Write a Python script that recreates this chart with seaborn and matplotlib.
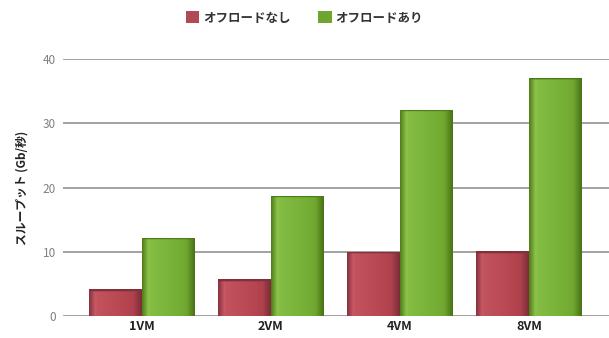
import numpy as np
import pandas as pd
import matplotlib
matplotlib.use("Agg")
import matplotlib.pyplot as plt
from matplotlib.colors import LinearSegmentedColormap
import seaborn as sns

categories = ["1VM", "2VM", "4VM", "8VM"]
series_names = ["オフロードなし", "オフロードあり"]
no_offload = [4.2, 5.7, 10.0, 10.1]
with_offload = [12.2, 18.7, 32.1, 37.1]
y_ticks = [0, 10, 20, 30, 40]
y_label = "スループット (Gb/秒)"

colors = {"オフロードなし": "#b04a55", "オフロードあり": "#6fa52e"}
# horizontal shading per series: dark edge -> light centre -> dark edge
shades = {
    "オフロードなし": ["#8a3342", "#c85a62", "#b5444f", "#7d2e3a"],
    "オフロードあり": ["#557f1c", "#8cc54a", "#74ad34", "#4a7415"],
}

df = pd.DataFrame({
    "category": categories * 2,
    "series": [series_names[0]] * 4 + [series_names[1]] * 4,
    "value": no_offload + with_offload,
})

sns.set_theme(style="white")
plt.rcParams["font.family"] = ["Noto Sans CJK JP", "DejaVu Sans"]

fig = plt.figure(figsize=(6.09, 3.38), dpi=100)
ax = fig.add_axes([0.1034, 0.065, 0.8966, 0.7604])

sns.barplot(data=df, x="category", y="value", hue="series", order=categories,
            hue_order=series_names, palette=colors, width=0.82, gap=0,
            saturation=1, linewidth=0, ax=ax, zorder=3)

ax.set_ylim(0, 40)
ax.set_xlim(-0.61, 3.62)
ax.set_yticks(y_ticks)
ax.grid(axis="y", color="#9a9a9a", linewidth=1.3, zorder=1)
ax.set_axisbelow(True)
for s in ax.spines.values():
    s.set_visible(False)

# shaded fill for each bar, clipped to the bar shape
n_rows = 400
for cont, name in zip(ax.containers, series_names):
    cmap = LinearSegmentedColormap.from_list(name, shades[name])
    for patch in cont.patches:
        x0, y0 = patch.get_x(), patch.get_y()
        w, h = patch.get_width(), patch.get_height()
        prof = np.concatenate([np.linspace(0, 0.45, 8), np.linspace(0.45, 0.7, 30),
                               np.linspace(0.7, 1.0, 8)])
        grad = np.tile(prof, (n_rows, 1))
        # thin darker cap at the top of the bar
        cap = max(1, int(round(0.35 / h * n_rows)))
        grad[-cap:, :] = 0.97
        im = ax.imshow(grad, cmap=cmap, vmin=0, vmax=1, origin="lower",
                       extent=(x0, x0 + w, y0, y0 + h), aspect="auto",
                       interpolation="bilinear", zorder=4)
        im.set_clip_path(patch)
ax.set_xlim(-0.61, 3.62)
ax.set_ylim(0, 40)

ax.set_xlabel("")
ax.set_ylabel(y_label, fontsize=8.5, fontweight="bold", color="#222222", labelpad=10)
ax.tick_params(axis="y", length=0, labelsize=8.5, labelcolor="#808080", pad=5)
ax.tick_params(axis="x", length=0, labelsize=9, labelcolor="#222222", pad=3)
for lab in ax.get_xticklabels():
    lab.set_fontweight("bold")

sns.move_legend(ax, "center", bbox_to_anchor=(0.442, 1.16), ncol=2, frameon=False,
                title=None, fontsize=9, handlelength=1.1, handleheight=1.1,
                handletextpad=0.3, columnspacing=2.2)
for t in ax.get_legend().get_texts():
    t.set_fontweight("bold")
    t.set_color("#333333")

fig.savefig("out.png", dpi=100)
